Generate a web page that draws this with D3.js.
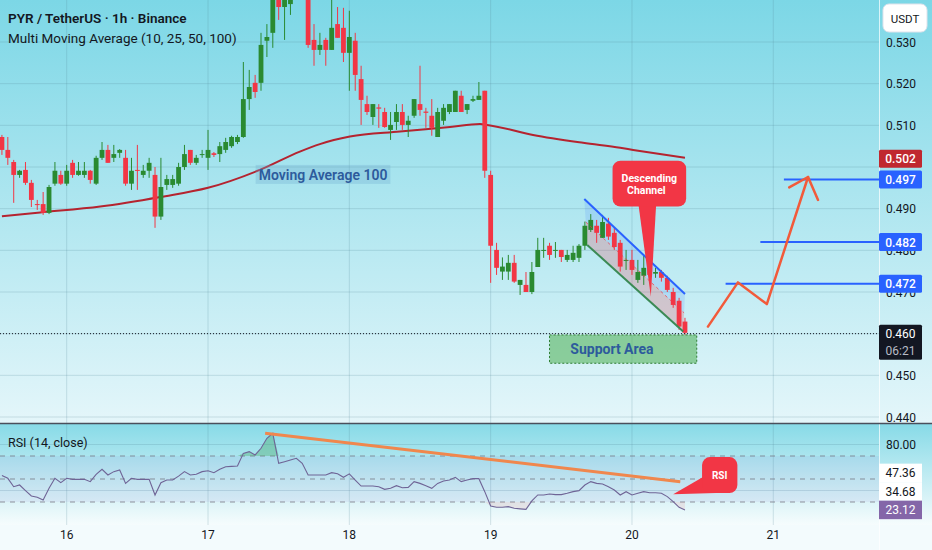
<!DOCTYPE html>
<html>
<head>
<meta charset="utf-8">
<script src="https://cdnjs.cloudflare.com/ajax/libs/d3/7.8.5/d3.min.js"></script>
<style>
  body { margin: 0; background: #fff; }
  svg { display: block; font-family: Roboto, "Liberation Sans", sans-serif; }
</style>
</head>
<body>
<div id="chart"></div>
<script>
// PYR / USDT 1h candles, starting 15th 13:00
const opens  = [.5072,.5041,.5012,.4981,.4993,.4962,.4911,.4911,.4890,.4960,.4981,.4960,.5010,.4981,.4981,.4991,.4960,.5022,.5041,.5022,
                .5034,.5022,.4960,.4993,.4981,.4991,.4981,.4881,.4957,.4957,.4960,.5000,.5041,.5010,.5029,.5022,.5033,.5031,.5041,.5050,
                .5060,.5072,.5163,.5202,.5202,.5303,.5322,.5420,.5384,.5391,.5420,.5450,.5430,.5305,.5281,.5305,.5281,.5343,.5334,.5274,
                .5303,.5211,.5151,.5120,.5143,.5132,.5089,.5108,.5132,.5101,.5123,.5151,.5133,.5123,.5072,.5111,.5132,.5132,.5171,.5137,
                .5159,.5161,.5183,.4981,.4801,.4749,.4749,.4770,.4717,.4717,.4700,.4760,.4799,.4811,.4799,.4801,.4777,.4777,.4782,.4811,
                .4849,.4859,.4830,.4864,.4842,.4818,.4775,.4777,.4729,.4739,.4758,.4744,.4748,.4734,.4700,.4679,.4629];
const highs  = [.5077,.5072,.5017,.4993,.5012,.4969,.4921,.4940,.4957,.5012,.4991,.5005,.5017,.5012,.5012,.4993,.5027,.5060,.5053,.5053,
                .5043,.5041,.5022,.5053,.5005,.5022,.5000,.5022,.4981,.4981,.5010,.5053,.5041,.5029,.5041,.5089,.5036,.5060,.5070,.5075,
                .5077,.5252,.5233,.5221,.5322,.5343,.5430,.5440,.5440,.5450,.5480,.5470,.5450,.5343,.5322,.5310,.5401,.5384,.5382,.5375,
                .5322,.5243,.5171,.5151,.5151,.5142,.5132,.5151,.5151,.5123,.5163,.5243,.5142,.5163,.5142,.5151,.5151,.5183,.5183,.5151,
                .5171,.5204,.5183,.4991,.4818,.4783,.4789,.4789,.4729,.4748,.4772,.4830,.4830,.4818,.4820,.4801,.4801,.4811,.4815,.4869,
                .4887,.4873,.4885,.4878,.4854,.4825,.4801,.4801,.4777,.4789,.4765,.4758,.4753,.4739,.4710,.4686,.4638];
const lows   = [.5029,.5005,.4914,.4974,.4957,.4904,.4897,.4885,.4887,.4955,.4957,.4955,.4974,.4979,.4974,.4960,.4957,.5017,.5010,.5012,
                .5022,.4955,.4945,.4945,.4974,.4974,.4854,.4873,.4945,.4950,.4955,.4993,.5005,.5005,.5022,.4993,.5024,.5012,.5034,.5046,
                .5055,.5070,.5137,.5166,.5183,.5264,.5286,.5353,.5305,.5365,.5410,.5410,.5286,.5243,.5269,.5243,.5281,.5310,.5252,.5183,
                .5183,.5101,.5125,.5101,.5094,.5094,.5065,.5089,.5089,.5072,.5118,.5123,.5094,.5075,.5072,.5101,.5127,.5132,.5132,.5127,
                .5156,.5161,.4974,.4722,.4741,.4729,.4729,.4722,.4693,.4700,.4695,.4760,.4782,.4777,.4782,.4772,.4772,.4772,.4772,.4801,
                .4844,.4818,.4830,.4825,.4801,.4749,.4753,.4741,.4722,.4717,.4729,.4734,.4725,.4700,.4662,.4609,.4597];
const closes = [.5041,.5022,.4981,.4991,.4962,.4921,.4909,.4890,.4952,.4991,.4960,.4991,.4981,.4991,.4991,.4969,.5022,.5041,.5010,.5031,
                .5041,.4960,.4991,.4991,.4991,.5010,.4881,.4952,.4971,.4971,.5000,.5031,.5010,.5022,.5031,.5041,.5029,.5050,.5060,.5072,
                .5072,.5163,.5192,.5180,.5293,.5312,.5413,.5384,.5420,.5420,.5450,.5430,.5293,.5281,.5293,.5281,.5334,.5310,.5274,.5312,
                .5221,.5161,.5132,.5151,.5140,.5096,.5101,.5132,.5101,.5111,.5163,.5137,.5130,.5094,.5132,.5142,.5151,.5183,.5132,.5151,
                .5163,.5171,.4991,.4811,.4758,.4761,.4770,.4725,.4729,.4700,.4748,.4801,.4801,.4789,.4801,.4784,.4789,.4794,.4811,.4859,
                .4873,.4842,.4868,.4833,.4808,.4761,.4777,.4753,.4748,.4758,.4741,.4748,.4734,.4705,.4669,.4617,.4602];

// RSI (14, close), one value per candle
const rsiVals = [53,50.6,43.3,44.8,39.9,35.2,34.1,31.7,41.9,50.6,46.8,50.6,49.7,49.7,49.7,47.7,54,58.4,53.5,56.4,
                 57.8,46.2,50.6,49.7,49.7,49.7,36.1,46.8,49.1,49.1,52.5,56.4,53.5,54.1,56.4,57.2,55.5,58.4,60.7,61,
                 61.3,72.3,73.8,70.9,76.7,85.4,89.7,63.6,65,66.5,68,63.6,53.5,53.5,53.5,53.5,55.5,54.5,51.5,54.5,
                 49.1,43.9,43.9,43.9,43.3,41,41.9,44.2,42.4,42.7,47.7,46.2,44.2,41.9,46.2,48.3,49.1,51.5,47.7,49.1,
                 50.3,50.3,39,26.5,25.4,25.4,26,24.5,24,23.6,30.9,36.1,36.1,37,36.4,36.4,37.6,39,39.9,44.8,
                 47.7,46.2,45.7,43.3,40.4,36.1,39,36.1,37.6,39,38.1,38,37.6,34.7,30.3,25.4,23.12];

// Moving Average 100, sampled at candle positions
const maIdx  = [0, 6.5, 16.7, 26.9, 35, 43.8, 50.6, 54, 59.1, 67.6, 76.1, 81.2, 82.4, 90.2, 98.7, 105, 107.2, 116];
const maVals = [.4882, .4891, .4905, .4928, .4950, .4993, .5037, .5055, .5073, .5085, .5096, .5103, .5101, .5077, .5058, .5046, .5041, .5022];

// 0.500 sits fully behind the 0.502 / 0.497 marks, so it is not listed
const priceTicks = [0.44, 0.45, 0.46, 0.47, 0.48, 0.49, 0.50, 0.51, 0.52, 0.53];
const priceLabels = [0.44, 0.45, 0.47, 0.48, 0.49, 0.51, 0.52, 0.53];
const dayTicks = [16, 17, 18, 19, 20, 21];
const rsiLevels = [70, 50, 30];
const rsiGridTicks = [80, 40];

// drawings: [candle index, price]
const levelPrices = [0.497, 0.482, 0.472];
const levelStarts = [132.8, 128.8, 122.9];
const channelTop = [[98.9, 0.4923], [116.0, 0.4695]];
const channelBottom = [[99.4, 0.4813], [115.7, 0.4605]];
const arrowPath = [[119.9, 0.4617], [125.0, 0.4723], [129.9, 0.4671], [136.9, 0.4976]];
const arrowHead = [[133.7, 0.4951], [136.9, 0.4976], [138.6, 0.4921]];
const supportBox = [93.0, 118.0, 0.4597, 0.4529];
const rsiTrend = [[44.7, 89.7], [115.2, 47.7]];
const axisMarks = [0.502, 0.497, 0.482, 0.472];
const axisMarkColors = ["#c0282f", "#2962ff", "#2962ff", "#2962ff"];
const lastPrice = 0.460;
const rsiMarks = [47.36, 34.68, 23.12];

const W = 932, H = 550, plotR = 879, mainB = 423, rsiB = 525;
const t0 = Date.UTC(2024, 0, 15, 13), HOUR = 3600e3;

const x = d3.scaleUtc()
  .domain([new Date(Date.UTC(2024, 0, 16)), new Date(Date.UTC(2024, 0, 21))])
  .range([66.7, 773.3]);
const xi = i => x(new Date(t0 + i * HOUR));
const y = d3.scaleLinear().domain([0.44, 0.53]).range([417, 42]);
const ry = d3.scaleLinear().domain([10, 100]).range([525, 421.5]);

const svg = d3.select("#chart").append("svg").attr("width", W).attr("height", H);
const defs = svg.append("defs");

function vgrad(id, c0, c1) {
  const g = defs.append("linearGradient").attr("id", id)
    .attr("x1", 0).attr("y1", 0).attr("x2", 0).attr("y2", 1);
  g.append("stop").attr("offset", "0%").attr("stop-color", c0);
  g.append("stop").attr("offset", "100%").attr("stop-color", c1);
}
vgrad("gMain", "#7cd7e6", "#e4f6fa");
vgrad("gRsi", "#86dae7", "#f6fcfd");

defs.append("clipPath").attr("id", "clipMain")
  .append("rect").attr("x", 0).attr("y", 0).attr("width", plotR).attr("height", mainB);
defs.append("clipPath").attr("id", "clipRsi")
  .append("rect").attr("x", 0).attr("y", mainB).attr("width", plotR).attr("height", rsiB - mainB);

// backgrounds
svg.append("rect").attr("x", 0).attr("y", 0).attr("width", W).attr("height", mainB).attr("fill", "url(#gMain)");
svg.append("rect").attr("x", 0).attr("y", mainB).attr("width", W).attr("height", rsiB - mainB).attr("fill", "url(#gRsi)");
svg.append("rect").attr("x", 0).attr("y", rsiB).attr("width", W).attr("height", H - rsiB).attr("fill", "#f3fbfd");

const gridColor = "rgba(80,130,150,0.22)";

// grid
svg.append("g").selectAll("line").data(priceTicks).join("line")
  .attr("x1", 0).attr("x2", plotR)
  .attr("y1", d => y(d)).attr("y2", d => y(d))
  .attr("stroke", gridColor);
svg.append("g").selectAll("line").data(rsiGridTicks).join("line")
  .attr("x1", 0).attr("x2", plotR)
  .attr("y1", d => ry(d)).attr("y2", d => ry(d))
  .attr("stroke", gridColor);
svg.append("g").selectAll("line").data(dayTicks).join("line")
  .attr("x1", d => x(new Date(Date.UTC(2024, 0, d)))).attr("x2", d => x(new Date(Date.UTC(2024, 0, d))))
  .attr("y1", 0).attr("y2", rsiB)
  .attr("stroke", gridColor);

// ---------- main pane ----------
const main = svg.append("g").attr("clip-path", "url(#clipMain)");

// MA 100
main.append("path")
  .datum(maIdx.map((d, i) => [d, maVals[i]]))
  .attr("d", d3.line().x(d => xi(d[0])).y(d => y(d[1])).curve(d3.curveMonotoneX))
  .attr("fill", "none").attr("stroke", "#b5232f").attr("stroke-width", 2);

// channel
const chMid = channelTop.map((p, k) => [(p[0] + channelBottom[k][0]) / 2, (p[1] + channelBottom[k][1]) / 2]);
const poly = pts => pts.map(p => [xi(p[0]), y(p[1])].join(",")).join(" ");
main.append("polygon").attr("points", poly([channelTop[0], channelTop[1], chMid[1], chMid[0]]))
  .attr("fill", "rgba(41,98,255,0.13)");
main.append("polygon").attr("points", poly([chMid[0], chMid[1], channelBottom[1], channelBottom[0]]))
  .attr("fill", "rgba(242,54,69,0.22)");

// candles
const candles = opens.map((o, i) => ({ i, o, h: highs[i], l: lows[i], c: closes[i] }));
const up = "#2a8a31", down = "#f23645";
const cg = main.append("g").selectAll("g").data(candles).join("g");
cg.append("line")
  .attr("x1", d => xi(d.i)).attr("x2", d => xi(d.i))
  .attr("y1", d => y(d.h)).attr("y2", d => y(d.l))
  .attr("stroke", d => d.c >= d.o ? up : down).attr("stroke-width", 1);
cg.append("rect")
  .attr("x", d => xi(d.i) - 2.4).attr("width", 4.8)
  .attr("y", d => y(Math.max(d.o, d.c)))
  .attr("height", d => Math.max(1, Math.abs(y(d.o) - y(d.c))))
  .attr("fill", d => d.c >= d.o ? up : down);

// channel lines
main.append("line").datum(chMid)
  .attr("x1", d => xi(d[0][0])).attr("y1", d => y(d[0][1]))
  .attr("x2", d => xi(d[1][0])).attr("y2", d => y(d[1][1]))
  .attr("stroke", "#f23645").attr("stroke-width", 1).attr("stroke-dasharray", "3,3").attr("opacity", 0.7);
main.append("line").datum(channelTop)
  .attr("x1", d => xi(d[0][0])).attr("y1", d => y(d[0][1]))
  .attr("x2", d => xi(d[1][0])).attr("y2", d => y(d[1][1]))
  .attr("stroke", "#2962ff").attr("stroke-width", 2);
main.append("line").datum(channelBottom)
  .attr("x1", d => xi(d[0][0])).attr("y1", d => y(d[0][1]))
  .attr("x2", d => xi(d[1][0])).attr("y2", d => y(d[1][1]))
  .attr("stroke", "#3b8a55").attr("stroke-width", 2);

// support area
main.append("rect")
  .attr("x", xi(supportBox[0])).attr("width", xi(supportBox[1]) - xi(supportBox[0]))
  .attr("y", y(supportBox[2])).attr("height", y(supportBox[3]) - y(supportBox[2]))
  .attr("fill", "rgba(76,175,80,0.55)").attr("stroke", "#2e7d32").attr("stroke-dasharray", "2,2");
main.append("text")
  .attr("x", xi(103.6)).attr("y", (y(supportBox[2]) + y(supportBox[3])) / 2 + 5)
  .attr("text-anchor", "middle").attr("font-size", 14).attr("font-weight", 700)
  .attr("fill", "#2d5b9c").text("Support Area");

// last price dotted line
main.append("line")
  .attr("x1", 0).attr("x2", plotR).attr("y1", y(lastPrice)).attr("y2", y(lastPrice))
  .attr("stroke", "#131722").attr("stroke-dasharray", "1,2");

// MA label
const maText = main.append("text")
  .attr("x", xi(43.6)).attr("y", y(0.4981) + 5)
  .attr("font-size", 14).attr("font-weight", 600).attr("fill", "#2d5b9c")
  .text("Moving Average 100");
const mb = maText.node().getBBox();
main.insert("rect", "text")
  .attr("x", mb.x - 3).attr("y", mb.y - 2).attr("width", mb.width + 6).attr("height", mb.height + 3)
  .attr("fill", "rgba(110,170,205,0.3)");

// target levels
main.append("g").selectAll("line").data(levelPrices).join("line")
  .attr("x1", (d, k) => xi(levelStarts[k])).attr("x2", plotR)
  .attr("y1", d => y(d)).attr("y2", d => y(d))
  .attr("stroke", "#2962ff").attr("stroke-width", 2);

// projected path arrow
const pl = d3.line().x(d => xi(d[0])).y(d => y(d[1]));
main.append("path").attr("d", pl(arrowPath))
  .attr("fill", "none").attr("stroke", "#f25a3a").attr("stroke-width", 2.5)
  .attr("stroke-linejoin", "round").attr("stroke-linecap", "round");
main.append("path").attr("d", pl(arrowHead))
  .attr("fill", "none").attr("stroke", "#f25a3a").attr("stroke-width", 2.5)
  .attr("stroke-linejoin", "round").attr("stroke-linecap", "round");

// "Descending Channel" callout
const cb = { x0: xi(103.7), x1: xi(116.2), y0: y(0.5015), y1: y(0.4905) };
main.append("polygon")
  .attr("points", [[xi(108.1), cb.y1 - 2], [xi(110.2), y(0.4689)], [xi(111.1), cb.y1 - 2]].map(p => p.join(",")).join(" "))
  .attr("fill", "#f23645");
main.append("rect")
  .attr("x", cb.x0).attr("y", cb.y0).attr("width", cb.x1 - cb.x0).attr("height", cb.y1 - cb.y0)
  .attr("rx", 8).attr("fill", "#f23645");
main.append("text").attr("x", (cb.x0 + cb.x1) / 2).attr("y", cb.y0 + 21)
  .attr("text-anchor", "middle").attr("font-size", 10.5).attr("font-weight", 700).attr("fill", "#fff")
  .text("Descending");
main.append("text").attr("x", (cb.x0 + cb.x1) / 2 - 3).attr("y", cb.y0 + 33)
  .attr("text-anchor", "middle").attr("font-size", 10.5).attr("font-weight", 700).attr("fill", "#fff")
  .text("Channel");

// ---------- RSI pane ----------
const rp = svg.append("g").attr("clip-path", "url(#clipRsi)");
rp.append("rect").attr("x", 0).attr("width", plotR)
  .attr("y", ry(70)).attr("height", ry(30) - ry(70))
  .attr("fill", "rgba(126,87,194,0.07)");
rp.append("g").selectAll("line").data(rsiLevels).join("line")
  .attr("x1", 0).attr("x2", plotR).attr("y1", d => ry(d)).attr("y2", d => ry(d))
  .attr("stroke", "#787b86").attr("stroke-dasharray", "5,5").attr("opacity", 0.8);

rp.append("path").datum(rsiVals)
  .attr("d", d3.area().x((d, i) => xi(i)).y0(ry(70)).y1(d => ry(Math.max(d, 70))))
  .attr("fill", "rgba(60,160,90,0.35)");
rp.append("path").datum(rsiVals)
  .attr("d", d3.area().x((d, i) => xi(i)).y0(ry(30)).y1(d => ry(Math.min(d, 30))))
  .attr("fill", "rgba(242,54,69,0.1)");
rp.append("path").datum(rsiVals)
  .attr("d", d3.line().x((d, i) => xi(i)).y(d => ry(d)))
  .attr("fill", "none").attr("stroke", "#6f6496").attr("stroke-width", 1.1);

rp.append("line").datum(rsiTrend)
  .attr("x1", d => xi(d[0][0])).attr("y1", d => ry(d[0][1]))
  .attr("x2", d => xi(d[1][0])).attr("y2", d => ry(d[1][1]))
  .attr("stroke", "#f0874d").attr("stroke-width", 3);

// RSI callout
const rb = { x0: xi(118.9), x1: xi(124.9), y0: ry(69.1), y1: ry(37.8) };
rp.append("polygon")
  .attr("points", [[rb.x0 + 1, rb.y0 + 20], [xi(114.0), ry(36.7)], [rb.x0 + 14, rb.y1]].map(p => p.join(",")).join(" "))
  .attr("fill", "#f23645");
rp.append("rect")
  .attr("x", rb.x0).attr("y", rb.y0).attr("width", rb.x1 - rb.x0).attr("height", rb.y1 - rb.y0)
  .attr("rx", 8).attr("fill", "#f23645");
rp.append("text").attr("x", (rb.x0 + rb.x1) / 2).attr("y", (rb.y0 + rb.y1) / 2 + 4)
  .attr("text-anchor", "middle").attr("font-size", 10).attr("font-weight", 700).attr("fill", "#fff")
  .text("RSI");

// separators
svg.append("line").attr("x1", plotR + 0.5).attr("x2", plotR + 0.5).attr("y1", 0).attr("y2", H)
  .attr("stroke", "rgba(255,255,255,0.7)");
svg.append("line").attr("x1", 0).attr("x2", W).attr("y1", mainB + 0.5).attr("y2", mainB + 0.5)
  .attr("stroke", "#4a4f5c").attr("stroke-width", 1.5);

// ---------- axes ----------
const axisX = 901;
svg.append("g").selectAll("text").data(priceLabels).join("text")
  .attr("x", axisX).attr("y", d => y(d) + 4.5)
  .attr("text-anchor", "middle").attr("font-size", 12).attr("fill", "#131722")
  .text(d => d3.format(".3f")(d));

// x axis day labels
svg.append("g").selectAll("text").data(dayTicks).join("text")
  .attr("x", d => x(new Date(Date.UTC(2024, 0, d)))).attr("y", 539)
  .attr("text-anchor", "middle").attr("font-size", 12).attr("fill", "#131722")
  .text(d => d);

// axis price marks
const mg = svg.append("g").selectAll("g").data(axisMarks).join("g");
mg.append("rect")
  .attr("x", plotR).attr("y", d => y(d) - 9).attr("width", 43).attr("height", 18).attr("rx", 1.5)
  .attr("fill", (d, k) => axisMarkColors[k]);
mg.append("text")
  .attr("x", plotR + 21.5).attr("y", d => y(d) + 4.5)
  .attr("text-anchor", "middle").attr("font-size", 12).attr("font-weight", 500).attr("fill", "#fff")
  .text(d => d3.format(".3f")(d));

// last price + countdown
svg.append("rect").attr("x", plotR).attr("y", y(lastPrice) - 9).attr("width", 43).attr("height", 35)
  .attr("rx", 1.5).attr("fill", "#131722");
svg.append("text").attr("x", plotR + 21.5).attr("y", y(lastPrice) + 4.5)
  .attr("text-anchor", "middle").attr("font-size", 12).attr("fill", "#fff")
  .text(d3.format(".3f")(lastPrice));
svg.append("text").attr("x", plotR + 21.5).attr("y", y(lastPrice) + 21)
  .attr("text-anchor", "middle").attr("font-size", 12).attr("fill", "#b8bcc6")
  .text("06:21");

// USDT button
svg.append("rect").attr("x", 883).attr("y", 4).attr("width", 44).attr("height", 28).attr("rx", 6)
  .attr("fill", "#ffffff").attr("stroke", "#e0e3eb");
svg.append("text").attr("x", 905).attr("y", 22.5).attr("text-anchor", "middle")
  .attr("font-size", 11.5).attr("fill", "#131722").text("USDT");

// RSI axis
svg.append("text").attr("x", axisX).attr("y", ry(80) + 4.5)
  .attr("text-anchor", "middle").attr("font-size", 12).attr("fill", "#131722").text("80.00");
let prevY = null;
const rsiMarkY = rsiMarks.slice().reverse().map(v => {
  let yy = ry(v);
  if (prevY !== null && prevY - yy < 18.5) yy = prevY - 18.5;
  prevY = yy;
  return yy;
}).reverse();
const rg = svg.append("g").selectAll("g").data(rsiMarks).join("g");
rg.append("rect")
  .attr("x", plotR).attr("y", (d, k) => rsiMarkY[k] - 9.25).attr("width", 43).attr("height", 18.5)
  .attr("fill", (d, k) => k === rsiMarks.length - 1 ? "#8466a8" : "#ffffff");
rg.append("text")
  .attr("x", plotR + 21.5).attr("y", (d, k) => rsiMarkY[k] + 4.5)
  .attr("text-anchor", "middle").attr("font-size", 12)
  .attr("fill", (d, k) => k === rsiMarks.length - 1 ? "#ffffff" : "#131722")
  .text(d => d3.format(".2f")(d));

// legends
svg.append("text").attr("x", 8).attr("y", 23).attr("font-size", 13.5).attr("font-weight", 600)
  .attr("fill", "#131722").text("PYR / TetherUS · 1h · Binance");
svg.append("text").attr("x", 8).attr("y", 43).attr("font-size", 13.5)
  .attr("fill", "#131722").text("Multi Moving Average (10, 25, 50, 100)");
svg.append("text").attr("x", 8).attr("y", 447).attr("font-size", 12.5)
  .attr("fill", "#131722").text("RSI (14, close)");
</script>
</body>
</html>
